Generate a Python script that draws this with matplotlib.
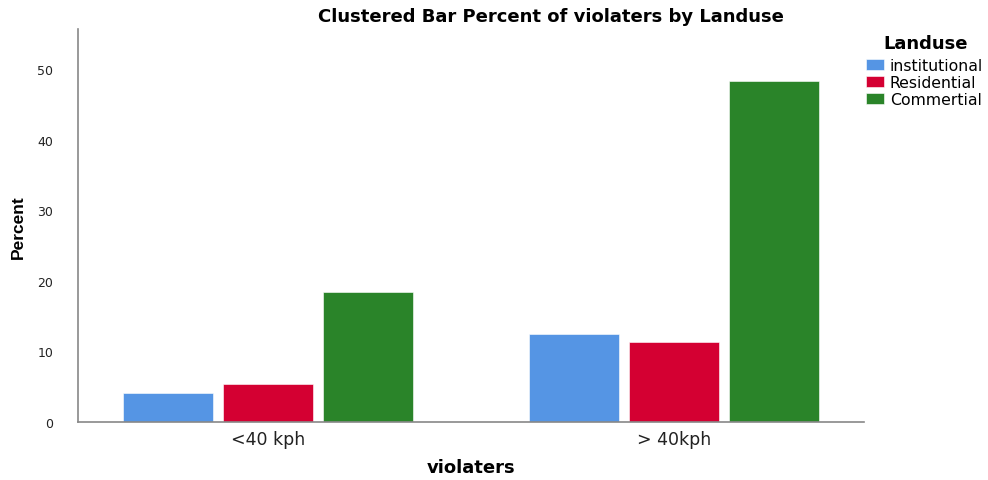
import numpy as np
import matplotlib
matplotlib.use('Agg')
import matplotlib.pyplot as plt

plt.rcParams['font.family'] = ['DejaVu Sans']

# data
groups = ['<40 kph', '> 40kph']
landuse = ['institutional', 'Residential', 'Commertial']
institutional = [4.1, 12.5]
residential = [5.4, 11.3]
commertial = [18.4, 48.4]
colors = ['#5595E4', '#D40032', '#2A8429']

fig = plt.figure(figsize=(9.88, 4.81), dpi=100)
ax = fig.add_axes([0.079, 0.1206, 0.7955, 0.817])

x = np.arange(len(groups))
width = 0.221
step = 0.246
series = [institutional, residential, commertial]
for i, vals in enumerate(series):
    ax.bar(x + (i - 1) * step, vals, width, color=colors[i], label=landuse[i],
           edgecolor='white', linewidth=0.4)

ax.set_xlim(-0.467, 1.467)
ax.set_ylim(0, 55.7)
ax.set_yticks([0, 10, 20, 30, 40, 50])
ax.set_xticks(x)
ax.set_xticklabels(groups, fontsize=12.5, color='#222222')
ax.tick_params(axis='y', labelsize=9, length=0, pad=18, colors='#222222')
ax.tick_params(axis='x', length=0, pad=6)

for s in ['top', 'right']:
    ax.spines[s].set_visible(False)
for s in ['left', 'bottom']:
    ax.spines[s].set_color('#888888')
    ax.spines[s].set_linewidth(1.2)

ax.set_xlabel('violaters', fontsize=13, fontweight='bold', labelpad=7)
fig.text(0.019, 0.528, 'Percent', rotation=90, fontsize=12.5, fontweight='bold',
         family=['Liberation Sans Narrow', 'Liberation Sans'],
         ha='center', va='center')
fig.text(0.558, 0.965, 'Clustered Bar Percent of violaters by Landuse',
         fontsize=13, fontweight='bold', ha='center', va='center')

# legend title placed separately to match its spacing
fig.text(0.937, 0.908, 'Landuse', fontsize=13, fontweight='bold',
         ha='center', va='center')
leg = ax.legend(loc='upper left', bbox_to_anchor=(0.995, 0.942), frameon=False,
                fontsize=11.3, handlelength=1.15, handleheight=0.7,
                handletextpad=0.35, labelspacing=0.14, borderaxespad=0)

fig.savefig('out.png', dpi=100)
